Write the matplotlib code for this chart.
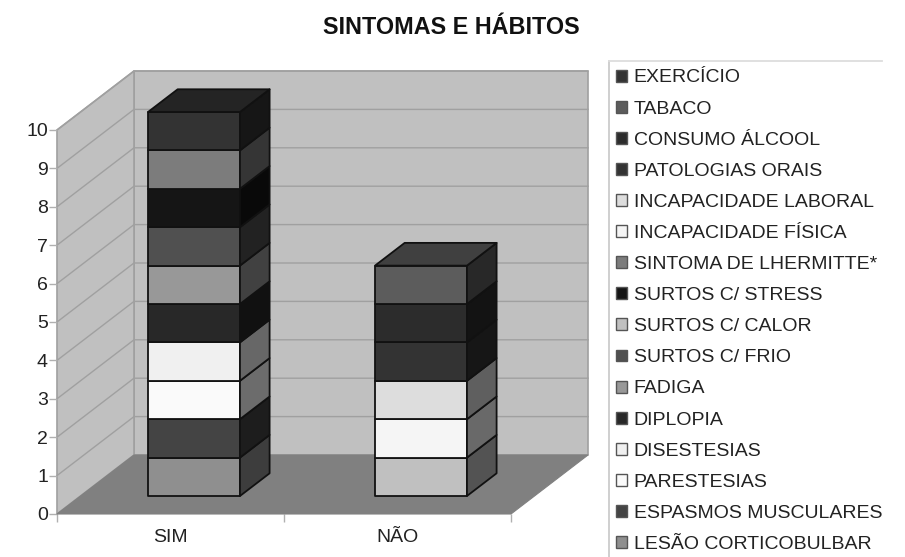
import matplotlib
matplotlib.use("Agg")
import matplotlib.pyplot as plt
from matplotlib.patches import Polygon, Patch
from matplotlib.lines import Line2D

plt.rcParams["font.family"] = ["Liberation Sans", "DejaVu Sans"]

# Stacked counts per answer, bottom of the stack first
categories = ["SIM", "NÃO"]
symptoms = [
    "LESÃO CORTICOBULBAR", "ESPASMOS MUSCULARES", "PARESTESIAS", "DISESTESIAS",
    "DIPLOPIA", "FADIGA", "SURTOS C/ FRIO", "SURTOS C/ CALOR", "SURTOS C/ STRESS",
    "SINTOMA DE LHERMITTE*", "INCAPACIDADE FÍSICA", "INCAPACIDADE LABORAL",
    "PATOLOGIAS ORAIS", "CONSUMO ÁLCOOL", "TABACO", "EXERCÍCIO",
]
sim_values = [1, 1, 1, 1, 1, 1, 1, 0, 1, 1, 0, 0, 0, 0, 0, 1]
nao_values = [0, 0, 0, 0, 0, 0, 0, 1, 0, 0, 1, 1, 1, 1, 1, 0]
greys = [0x8f, 0x44, 0xfa, 0xf0, 0x28, 0x98, 0x50, 0xc0, 0x15,
         0x7c, 0xf5, 0xdd, 0x33, 0x2c, 0x5c, 0x33]
y_ticks = list(range(11))


def grey(level, factor=1.0):
    v = level * factor / 255
    return (v, v, v)


# oblique offset of one full depth unit, in data units
DX = 77 / 227
DY = 59 / 38.4


def proj(x, y, d):
    return (x + d * DX, y + d * DY)


fig = plt.figure(figsize=(9.05, 5.57), dpi=100)
ax = fig.add_axes([57 / 905, (557 - 514) / 557, 454 / 905, 384 / 557])
ax.set_xlim(0, 2)
ax.set_ylim(0, 10)
ax.patch.set_visible(False)
for s in ax.spines.values():
    s.set_visible(False)

line_col = "#a0a0a0"
ymax = 10


def face(pts, fc, ec, lw, z):
    ax.add_patch(Polygon(pts, closed=True, facecolor=fc, edgecolor=ec,
                         linewidth=lw, zorder=z, clip_on=False, joinstyle="round"))


# walls and floor
face([proj(0, 0, 1), proj(2, 0, 1), proj(2, ymax, 1), proj(0, ymax, 1)], "#c0c0c0", line_col, 1.2, 1)
face([proj(0, 0, 0), proj(0, 0, 1), proj(0, ymax, 1), proj(0, ymax, 0)], "#c0c0c0", line_col, 1.2, 1)
face([proj(0, 0, 0), proj(2, 0, 0), proj(2, 0, 1), proj(0, 0, 1)], "#808080", "#808080", 0.8, 2)

for t in y_ticks[1:]:
    xs, ys = zip(proj(0, t, 0), proj(0, t, 1), proj(2, t, 1))
    ax.plot(xs, ys, color=line_col, lw=1.0, zorder=1.5, clip_on=False)

# stacked blocks
bar_w = 0.405
d0, d1 = 0.305, 0.69
edge = "#111111"
for i, vals in enumerate([sim_values, nao_values]):
    x0 = i + 0.5 - bar_w / 2
    x1 = i + 0.5 + bar_w / 2
    base = 0
    last = None
    for v, g in zip(vals, greys):
        if v == 0:
            continue
        top = base + v
        face([proj(x0, base, d0), proj(x1, base, d0), proj(x1, top, d0), proj(x0, top, d0)],
             grey(g), edge, 1.3, 5)
        face([proj(x1, base, d0), proj(x1, base, d1), proj(x1, top, d1), proj(x1, top, d0)],
             grey(g, 0.43), edge, 1.3, 5)
        base = top
        last = g
    face([proj(x0, base, d0), proj(x1, base, d0), proj(x1, base, d1), proj(x0, base, d1)],
         grey(last, 0.7), edge, 1.3, 5)

# axes ticks and labels
ax.set_yticks(y_ticks)
ax.set_xticks([0, 1, 2])
ax.set_xticklabels([])
ax.set_xticks([0.5, 1.5], minor=True)
ax.set_xticklabels(categories, minor=True, fontsize=14, color="#222222")
ax.tick_params(axis="x", which="major", length=6, color="#b0b0b0", width=1)
ax.tick_params(axis="x", which="minor", length=0, pad=11)
ax.tick_params(axis="y", length=6, color="#b0b0b0", width=1, labelsize=14,
               labelcolor="#222222", pad=0.5)

fig.text(451 / 905, 1 - 27 / 557, "SINTOMAS E HÁBITOS", ha="center", va="center",
         fontsize=16.8, fontweight="bold", color="#111111")

# legend, top entry is the last series
handles = [Patch(facecolor=grey(g), edgecolor="#555555", linewidth=1.0) for g in greys[::-1]]
leg = fig.legend(handles, symptoms[::-1], loc="upper left",
                 bbox_to_anchor=(615.5 / 905, 1 - 69.5 / 557), frameon=False,
                 fontsize=14, labelcolor="#222222", borderpad=0, borderaxespad=0,
                 handlelength=0.57, handleheight=0.57, handletextpad=0.36, labelspacing=0.725)
fig.add_artist(Line2D([609 / 905, 609 / 905], [0, 1 - 61 / 557], color="#cccccc", lw=1.3))
fig.add_artist(Line2D([609 / 905, 882 / 905], [1 - 61 / 557, 1 - 61 / 557], color="#dddddd", lw=1.3))

fig.savefig("out.png", dpi=100)
